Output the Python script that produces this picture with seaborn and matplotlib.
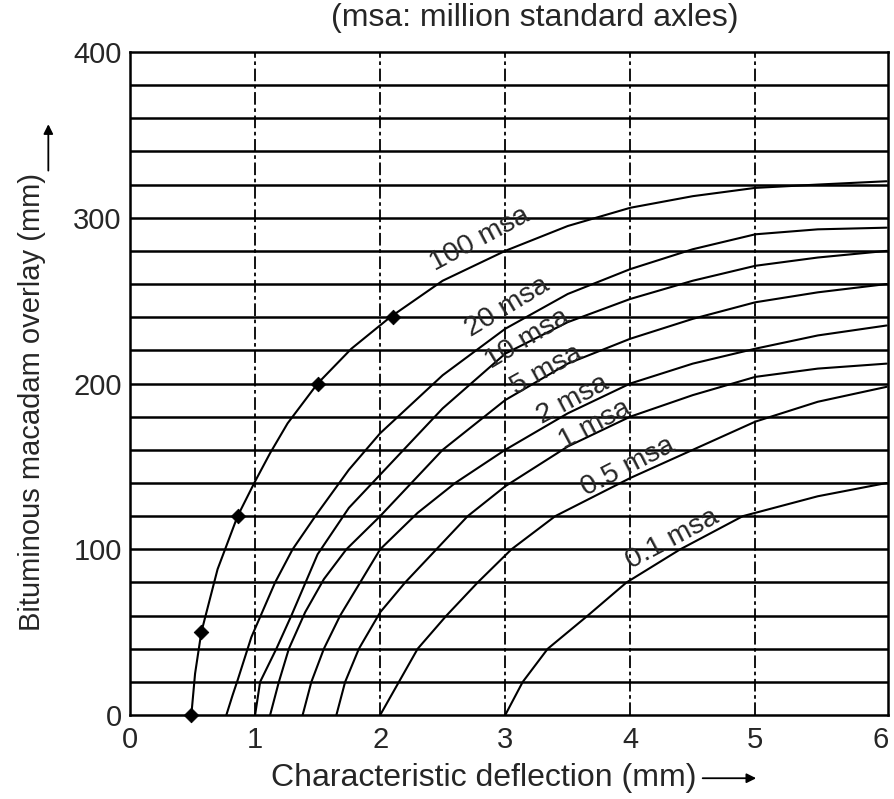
import numpy as np
import pandas as pd
import matplotlib
matplotlib.use("Agg")
import matplotlib.pyplot as plt
import seaborn as sns

# ---------------- data ----------------
curve_names = ["100 msa", "20 msa", "10 msa", "5 msa", "2 msa", "1 msa", "0.5 msa", "0.1 msa"]

x_100 = [0.49, 0.52, 0.57, 0.70, 0.86, 1.00, 1.12, 1.26, 1.50, 1.77, 2.08, 2.50, 3.00, 3.50, 4.00, 4.50, 5.00, 5.50, 6.05]
y_100 = [0, 25, 50, 88, 120, 141, 158, 176, 200, 221, 240, 262, 280, 295, 306, 313, 318, 320, 322]

x_20 = [0.77, 0.82, 0.86, 0.97, 1.16, 1.30, 1.50, 1.75, 2.00, 2.50, 3.00, 3.50, 4.00, 4.50, 5.00, 5.50, 6.05]
y_20 = [0, 12, 21, 47, 80, 100, 122, 148, 170, 205, 233, 254, 269, 281, 290, 293, 294]

x_10 = [1.00, 1.04, 1.17, 1.29, 1.50, 1.75, 2.00, 2.50, 3.00, 3.50, 4.00, 4.50, 5.00, 5.50, 6.05]
y_10 = [0, 20, 40, 60, 97, 125, 145, 185, 218, 237, 251, 262, 271, 276, 280]

x_5 = [1.12, 1.19, 1.27, 1.40, 1.55, 1.73, 2.00, 2.50, 3.00, 3.50, 4.00, 4.50, 5.00, 5.50, 6.05]
y_5 = [0, 20, 40, 62, 82, 100, 120, 160, 190, 212, 227, 239, 249, 255, 260]

x_2 = [1.38, 1.45, 1.55, 1.68, 1.84, 2.00, 2.30, 2.60, 3.00, 3.50, 4.00, 4.50, 5.00, 5.50, 6.05]
y_2 = [0, 20, 40, 60, 80, 100, 122, 140, 160, 182, 200, 212, 221, 229, 235]

x_1 = [1.65, 1.72, 1.83, 2.00, 2.20, 2.45, 2.70, 3.00, 3.50, 4.00, 4.50, 5.00, 5.50, 6.05]
y_1 = [0, 20, 40, 62, 80, 100, 120, 138, 162, 180, 193, 204, 209, 212]

x_05 = [2.00, 2.15, 2.30, 2.53, 2.78, 3.05, 3.40, 4.00, 4.50, 5.00, 5.50, 6.05]
y_05 = [0, 20, 40, 60, 80, 100, 120, 143, 160, 177, 189, 198]

x_01 = [3.00, 3.14, 3.34, 3.66, 3.97, 4.40, 4.90, 5.50, 6.05]
y_01 = [0, 20, 40, 60, 80, 100, 120, 132, 140]

marker_x = [0.49, 0.57, 0.86, 1.50, 2.10]
marker_y = [0, 50, 120, 200, 240]

x_ticks = [0, 1, 2, 3, 4, 5, 6]
y_ticks = [0, 100, 200, 300, 400]

title_text = "(msa: million standard axles)"
x_label = "Characteristic deflection (mm)"
y_label = "Bituminous macadam overlay (mm)"

# ---------------- build long table ----------------
xs = [x_100, x_20, x_10, x_5, x_2, x_1, x_05, x_01]
ys = [y_100, y_20, y_10, y_5, y_2, y_1, y_05, y_01]
frames = []
for name, cx, cy in zip(curve_names, xs, ys):
    frames.append(pd.DataFrame({"deflection": cx, "overlay": cy, "curve": name}))
df = pd.concat(frames, ignore_index=True)
markers_df = pd.DataFrame({"deflection": marker_x, "overlay": marker_y})

# ---------------- style ----------------
sns.set_style("white")
plt.rcParams["font.family"] = ["Liberation Sans", "DejaVu Sans"]

fig = plt.figure(figsize=(8.95, 7.99), dpi=100)
ax = fig.add_axes([0.1453, 0.105, 0.8467, 0.830])

# grid lines
for yv in np.arange(20, 400, 20):
    ax.axhline(yv, color="black", lw=1.8, zorder=1)
for xv in x_ticks[1:-1]:
    ax.axvline(xv, color="black", lw=1.3, ls=(0, (7, 2, 2, 2)), zorder=1)

sns.lineplot(data=df, x="deflection", y="overlay", hue="curve",
             palette=["black"] * len(curve_names), estimator=None, sort=False,
             legend=False, lw=1.5, ax=ax, zorder=3)

sns.scatterplot(data=markers_df, x="deflection", y="overlay", marker="D",
                s=55, color="black", edgecolor="black", ax=ax, zorder=4,
                legend=False, clip_on=False)

# curve labels
label_pos = {
    "100 msa": (2.80, 287, 28),
    "20 msa": (3.02, 246, 31),
    "10 msa": (3.18, 227, 31),
    "5 msa": (3.33, 208, 29),
    "2 msa": (3.54, 190, 28),
    "1 msa": (3.72, 175, 28),
    "0.5 msa": (3.98, 150, 27),
    "0.1 msa": (4.34, 106, 28),
}
for name in curve_names:
    lx, ly, rot = label_pos[name]
    ax.text(lx, ly, name, rotation=rot, rotation_mode="anchor",
            ha="center", va="center", fontsize=20.5, zorder=5)

ax.set_xlim(0, 6.06)
ax.set_ylim(0, 400)
ax.set_xticks(x_ticks)
ax.set_yticks(y_ticks)
ax.set_xticklabels([str(t) for t in x_ticks])
ax.set_yticklabels([str(t) for t in y_ticks])
ax.tick_params(axis="both", length=0, labelsize=21)
ax.tick_params(axis="x", pad=8)
ax.tick_params(axis="y", pad=6)
ax.set_xlabel("")
ax.set_ylabel("")
for sp in ax.spines.values():
    sp.set_visible(True)
    sp.set_color("black")
    sp.set_linewidth(1.8)

# titles and axis labels
fig.text(0.598, 0.977, title_text, ha="center", va="center", fontsize=23)
fig.text(0.540, 0.026, x_label, ha="center", va="center", fontsize=23)
fig.text(0.036, 0.497, y_label, ha="center", va="center", rotation=90, fontsize=21)

# arrows after axis labels
fig.add_artist(matplotlib.patches.FancyArrowPatch(
    (0.782, 0.026), (0.848, 0.026), transform=fig.transFigure,
    arrowstyle="-|>", mutation_scale=14, color="black", lw=1.3))
fig.add_artist(matplotlib.patches.FancyArrowPatch(
    (0.054, 0.783), (0.054, 0.848), transform=fig.transFigure,
    arrowstyle="-|>", mutation_scale=14, color="black", lw=1.3))

fig.savefig("out.png", dpi=100)
